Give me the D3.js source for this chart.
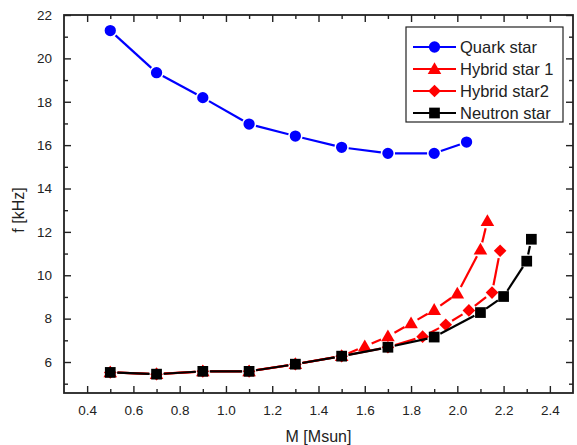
<!DOCTYPE html>
<html>
<head>
<meta charset="utf-8">
<script src="https://cdn.jsdelivr.net/npm/d3@7"></script>
<style>
  html, body { margin: 0; padding: 0; background: #fff; }
  text { font-family: "Liberation Sans", Arial, sans-serif; fill: #222; }
</style>
</head>
<body>
<svg id="chart" width="577" height="445"></svg>
<script>
// Frequency vs. mass for the four star models
const quarkM   = [0.5, 0.7, 0.9, 1.1, 1.3, 1.5, 1.7, 1.9, 2.04];
const quarkF   = [21.28, 19.34, 18.19, 16.97, 16.42, 15.90, 15.62, 15.62, 16.14];

const hybrid1M = [0.5, 0.7, 0.9, 1.1, 1.3, 1.5, 1.6, 1.7, 1.8, 1.9, 2.0, 2.1, 2.13];
const hybrid1F = [5.52, 5.44, 5.57, 5.57, 5.90, 6.27, 6.72, 7.18, 7.78, 8.40, 9.15, 11.18, 12.50];

const hybrid2M = [0.5, 0.7, 0.9, 1.1, 1.3, 1.5, 1.7, 1.85, 1.95, 2.05, 2.15, 2.185];
const hybrid2F = [5.52, 5.44, 5.57, 5.57, 5.90, 6.27, 6.68, 7.17, 7.72, 8.38, 9.20, 11.13];

const neutronM = [0.5, 0.7, 0.9, 1.1, 1.3, 1.5, 1.7, 1.9, 2.1, 2.2, 2.3, 2.32];
const neutronF = [5.52, 5.44, 5.57, 5.57, 5.90, 6.27, 6.68, 7.15, 8.28, 9.02, 10.65, 11.66];

const seriesNames = ["Quark star", "Hybrid star 1", "Hybrid star2", "Neutron star"];
const xTicks = [0.4, 0.6, 0.8, 1.0, 1.2, 1.4, 1.6, 1.8, 2.0, 2.2, 2.4];
const yTicks = [6, 8, 10, 12, 14, 16, 18, 20, 22];

// a diamond is drawn as a square turned by 45 degrees
const series = [
  { name: seriesNames[0], m: quarkM,   f: quarkF,   color: "#0000ff", symbol: d3.symbolCircle,   size: 100, r: 5.6, rot: 0,  dy: 0 },
  { name: seriesNames[1], m: hybrid1M, f: hybrid1F, color: "#ff0000", symbol: d3.symbolTriangle, size: 80,  r: 6.0, rot: 0,  dy: 1 },
  { name: seriesNames[2], m: hybrid2M, f: hybrid2F, color: "#ff0000", symbol: d3.symbolSquare,   size: 80,  r: 6.0, rot: 45, dy: 0 },
  { name: seriesNames[3], m: neutronM, f: neutronF, color: "#000000", symbol: d3.symbolSquare,   size: 115, r: 5.4, rot: 0,  dy: 0 }
];

const svg = d3.select("#chart");
const plotL = 64, plotR = 573, plotT = 15, plotB = 393;

const x = d3.scaleLinear().domain([0.3, 2.5]).range([plotL, plotR]);
const y = d3.scaleLinear().domain([4.571, 22]).range([plotB, plotT]);

// Axes: ticks point inwards, mirrored on the top and right edges
const xMinor = d3.range(0.5, 2.45, 0.2).map(v => +v.toFixed(2));
const yMinor = d3.range(5, 22, 2);
const majorLen = 7, minorLen = 4;

const axisBottom = d3.axisBottom(x).tickValues(xTicks).tickFormat(d3.format(".1f"))
  .tickSizeInner(-majorLen).tickSizeOuter(0).tickPadding(12);
const axisLeft = d3.axisLeft(y).tickValues(yTicks).tickFormat(d3.format("d"))
  .tickSizeInner(-majorLen).tickSizeOuter(0).tickPadding(12);

const gx = svg.append("g").attr("transform", `translate(0,${plotB})`).call(axisBottom);
const gy = svg.append("g").attr("transform", `translate(${plotL},0)`).call(axisLeft);
[gx, gy].forEach(g => {
  g.select(".domain").remove();
  g.selectAll(".tick line").attr("stroke", "#222").attr("stroke-width", 1.4);
  g.selectAll(".tick text").attr("font-size", 13.5).attr("fill", "#222")
    .attr("font-family", "'Liberation Sans', Arial, sans-serif");
});

function tickRow(axis, tx, ty) {
  svg.append("g").attr("transform", `translate(${tx},${ty})`)
    .call(axis.tickSizeOuter(0).tickFormat(""))
    .call(g => g.select(".domain").remove())
    .selectAll("line").attr("stroke", "#222").attr("stroke-width", 1.4);
}
tickRow(d3.axisBottom(x).tickValues(xMinor).tickSizeInner(-minorLen), 0, plotB);
tickRow(d3.axisLeft(y).tickValues(yMinor).tickSizeInner(-minorLen), plotL, 0);
tickRow(d3.axisTop(x).tickValues(xTicks).tickSizeInner(-majorLen), 0, plotT);
tickRow(d3.axisTop(x).tickValues(xMinor).tickSizeInner(-minorLen), 0, plotT);
tickRow(d3.axisRight(y).tickValues(yTicks).tickSizeInner(-majorLen), plotR, 0);
tickRow(d3.axisRight(y).tickValues(yMinor).tickSizeInner(-minorLen), plotR, 0);

// frame
svg.append("rect").attr("x", plotL).attr("y", plotT)
  .attr("width", plotR - plotL).attr("height", plotB - plotT)
  .attr("fill", "none").attr("stroke", "#222").attr("stroke-width", 1.8);

// axis titles
svg.append("text").attr("x", (plotL + plotR) / 2).attr("y", 442)
  .attr("text-anchor", "middle").attr("font-size", 16).text("M [Msun]");
svg.append("text").attr("transform", "translate(24,210) rotate(-90)")
  .attr("text-anchor", "middle").attr("font-size", 16).text("f [kHz]");

const markerTransform = (s, px, py) =>
  `translate(${px},${py + s.dy}) rotate(${s.rot})`;

// series: line segments stop short of each symbol, then the symbols on top
const plot = svg.append("g");
series.forEach(s => {
  const pts = s.m.map((m, i) => [x(m), y(s.f[i])]);
  const gap = s.r + 1.5;
  const segs = d3.pairs(pts).map(([a, b]) => {
    const dx = b[0] - a[0], dy = b[1] - a[1];
    const len = Math.hypot(dx, dy);
    if (len <= 2 * gap) return null;
    const ux = dx / len, uy = dy / len;
    return [[a[0] + ux * gap, a[1] + uy * gap], [b[0] - ux * gap, b[1] - uy * gap]];
  }).filter(Boolean);
  const g = plot.append("g");
  g.selectAll("line").data(segs).join("line")
    .attr("x1", d => d[0][0]).attr("y1", d => d[0][1])
    .attr("x2", d => d[1][0]).attr("y2", d => d[1][1])
    .attr("stroke", s.color).attr("stroke-width", 2.2).attr("stroke-linecap", "butt");
  g.selectAll("path").data(pts).join("path")
    .attr("d", d3.symbol().type(s.symbol).size(s.size))
    .attr("transform", d => markerTransform(s, d[0], d[1]))
    .attr("fill", s.color);
});

// legend
const lg = svg.append("g");
lg.append("rect").attr("x", 406).attr("y", 27).attr("width", 157).attr("height", 95)
  .attr("fill", "#fff").attr("stroke", "#222").attr("stroke-width", 1.2);
series.forEach((s, i) => {
  const cy = 47 + i * 22;
  lg.append("line").attr("x1", 413).attr("x2", 456).attr("y1", cy).attr("y2", cy)
    .attr("stroke", s.color).attr("stroke-width", 2.2);
  lg.append("path").attr("d", d3.symbol().type(s.symbol).size(s.size))
    .attr("transform", markerTransform(s, 434.5, cy))
    .attr("fill", s.color);
  lg.append("text").attr("x", 460).attr("y", cy + 5.5).attr("font-size", 16.5).text(s.name);
});
</script>
</body>
</html>
